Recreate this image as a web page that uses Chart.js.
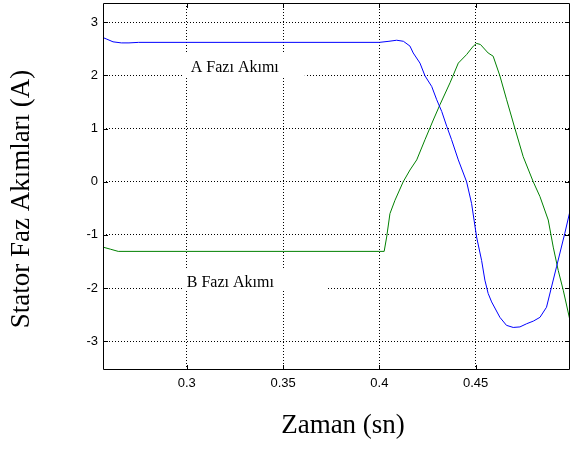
<!DOCTYPE html>
<html>
<head>
<meta charset="utf-8">
<script src="https://cdn.jsdelivr.net/npm/chart.js@4"></script>
<style>
  html, body { margin: 0; padding: 0; background: #fff; }
  canvas { display: block; }
</style>
</head>
<body>
<canvas id="chart" width="571" height="454"></canvas>
<script>
// phase currents
const timeA = [0.2565, 0.2585, 0.2617, 0.266, 0.27, 0.275, 0.3, 0.35, 0.4, 0.405, 0.409, 0.4125,
  0.4159, 0.4176, 0.4211, 0.4237, 0.4272, 0.4298, 0.4324, 0.435, 0.4375, 0.441, 0.4453, 0.4479,
  0.4505, 0.4531, 0.4548, 0.4565, 0.4583, 0.4626, 0.466, 0.4695, 0.473, 0.4765, 0.48, 0.4834,
  0.4868, 0.4894, 0.492, 0.4963, 0.499];
const currentA = [2.71, 2.68, 2.63, 2.61, 2.61, 2.62, 2.62, 2.62, 2.62, 2.64, 2.66, 2.64,
  2.55, 2.42, 2.23, 1.99, 1.79, 1.54, 1.32, 1.04, 0.79, 0.41, 0.0, -0.41,
  -1.04, -1.48, -1.85, -2.1, -2.26, -2.55, -2.7, -2.74, -2.73, -2.67, -2.62, -2.55,
  -2.36, -1.98, -1.6, -0.97, -0.55];

const timeB = [0.2565, 0.2605, 0.2644, 0.3, 0.35, 0.4, 0.4025, 0.4038, 0.4055, 0.4081, 0.4124,
  0.4159, 0.4194, 0.4237, 0.428, 0.4315, 0.4367, 0.441, 0.4453, 0.4488, 0.4505, 0.4525, 0.4565,
  0.4591, 0.4626, 0.4661, 0.4704, 0.4747, 0.4799, 0.4834, 0.4877, 0.4903, 0.4929, 0.4955, 0.499];
const currentB = [-1.23, -1.27, -1.31, -1.31, -1.31, -1.31, -1.31, -1.04, -0.6, -0.35, 0.0,
  0.22, 0.41, 0.79, 1.16, 1.45, 1.86, 2.23, 2.39, 2.55, 2.6, 2.58, 2.42,
  2.36, 1.99, 1.54, 1.0, 0.47, 0.0, -0.28, -0.72, -1.23, -1.67, -2.04, -2.61];

const xTicks = [0.3, 0.35, 0.4, 0.45];
const yTicks = [-3, -2, -1, 0, 1, 2, 3];
const xLimits = [0.2565, 0.499];
const yLimits = [-3.54, 3.36];

const xTitle = "Zaman (sn)";
const yTitle = "Stator Faz Akımları (A)";
// in-plot labels: text, anchor time, anchor current
const labelA = ["A Fazı Akımı", 0.3021, 2.06];
const labelB = ["B Fazı Akımı", 0.3, -1.98];

const toPoints = (xs, ys) => xs.map((x, i) => ({x, y: ys[i]}));

const SERIF = "'Liberation Serif', 'Times New Roman', serif";
const SANS = "'Liberation Sans', Arial, sans-serif";

// white boxed text labels, axes frame, inward ticks and axis titles
const decor = {
  id: 'decor',
  beforeDatasetsDraw(chart){
    const {ctx, scales:{x, y}} = chart;
    ctx.save();
    ctx.fillStyle = '#fff';
    [[labelA, -8, 122, -20, 5], [labelB, -4, 145, -19, 3]].forEach(([l, dx, w, dy, h2]) => {
      const px = x.getPixelForValue(l[1]), py = y.getPixelForValue(l[2]);
      ctx.fillRect(px + dx, py + dy, w, -dy + h2);
    });
    ctx.fillStyle = '#000';
    ctx.font = "16px " + SERIF;
    ctx.textBaseline = 'alphabetic';
    ctx.textAlign = 'left';
    [labelA, labelB].forEach(l => {
      ctx.fillText(l[0], x.getPixelForValue(l[1]), y.getPixelForValue(l[2]));
    });
    ctx.restore();
  },
  afterDraw(chart){
    const {ctx, chartArea:a, scales:{x, y}} = chart;
    ctx.save();
    ctx.strokeStyle = '#000';
    ctx.lineWidth = 1;
    ctx.beginPath();
    ctx.rect(Math.round(a.left) + 0.5, Math.round(a.top) + 0.5,
             Math.round(a.right - a.left) - 1, Math.round(a.bottom - a.top) - 1);
    xTicks.forEach(v => {
      const px = Math.round(x.getPixelForValue(v)) + 0.5;
      ctx.moveTo(px, a.bottom); ctx.lineTo(px, a.bottom - 5);
      ctx.moveTo(px, a.top); ctx.lineTo(px, a.top + 5);
    });
    yTicks.forEach(v => {
      const py = Math.round(y.getPixelForValue(v)) + 0.5;
      ctx.moveTo(a.left, py); ctx.lineTo(a.left + 5, py);
      ctx.moveTo(a.right, py); ctx.lineTo(a.right - 5, py);
    });
    ctx.stroke();

    ctx.fillStyle = '#000';
    ctx.font = "27px " + SERIF;
    ctx.textAlign = 'center';
    ctx.textBaseline = 'alphabetic';
    ctx.fillText(xTitle, 343, 433);
    ctx.translate(29, 199);
    ctx.rotate(-Math.PI / 2);
    ctx.fillText(yTitle, 0, 0);
    ctx.restore();
  }
};

const gridStyle = {
  color: '#000',
  lineWidth: 1,
  drawTicks: false
};

new Chart(document.getElementById('chart'), {
  type: 'line',
  data: {
    datasets: [
      { label: 'A', data: toPoints(timeA, currentA), borderColor: '#0000ff', borderWidth: 1,
        pointRadius: 0, tension: 0, fill: false },
      { label: 'B', data: toPoints(timeB, currentB), borderColor: '#008000', borderWidth: 1,
        pointRadius: 0, tension: 0, fill: false }
    ]
  },
  options: {
    responsive: false,
    animation: false,
    devicePixelRatio: 1,
    layout: { padding: { left: 0, top: 3, right: 1, bottom: 0 } },
    plugins: { legend: { display: false }, tooltip: { enabled: false } },
    scales: {
      x: {
        type: 'linear',
        min: xLimits[0], max: xLimits[1],
        afterBuildTicks: s => { s.ticks = xTicks.map(v => ({value: v})); },
        afterFit: s => { s.height = 84; s.paddingLeft = 0; s.paddingRight = 0; },
        grid: gridStyle,
        border: { display: false, dash: [1, 2] },
        ticks: {
          color: '#000', padding: 6,
          font: { family: SANS, size: 13 },
          callback: v => String(v)
        }
      },
      y: {
        type: 'linear',
        min: yLimits[0], max: yLimits[1],
        afterBuildTicks: s => { s.ticks = yTicks.map(v => ({value: v})); },
        afterFit: s => { s.width = 103; s.paddingTop = 0; s.paddingBottom = 0; },
        grid: gridStyle,
        border: { display: false, dash: [1, 2] },
        ticks: {
          color: '#000', padding: 5,
          font: { family: SANS, size: 13 },
          callback: v => String(v)
        }
      }
    }
  },
  plugins: [decor]
});
</script>
</body>
</html>
